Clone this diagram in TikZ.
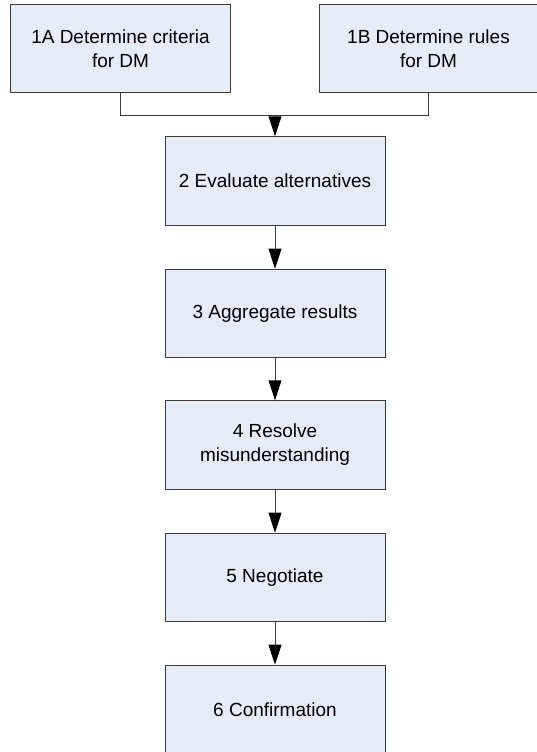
\documentclass[tikz,border=0pt]{standalone}
\usepackage{fontspec}
\setmainfont{Liberation Sans}
\usetikzlibrary{arrows.meta}
\definecolor{boxfill}{HTML}{E6ECF6}
\definecolor{boxline}{HTML}{3A3A3A}
\tikzset{
  stepbox/.style={draw=boxline, line width=0.9pt, fill=boxfill, minimum width=220pt, minimum height=88.5pt, align=center, inner sep=0pt, font=\fontsize{19}{24}\selectfont},
  conn/.style={draw=boxline, line width=0.9pt},
  arr/.style={conn, -{Triangle[length=20pt,width=13pt,fill=black,color=black]}}
}
\begin{document}
\begin{tikzpicture}[x=1pt,y=1pt]
\clip (0,0) rectangle (537,-752);
\useasboundingbox (0,0) rectangle (537,-752);
\node[stepbox] (a) at (120.5,-48.5) {1A Determine criteria\\for DM};
\node[stepbox, minimum width=218pt] (b) at (428.5,-48.5) {1B Determine rules\\for DM};
\node[stepbox] (n2) at (275,-181) {2 Evaluate alternatives};
\node[stepbox] (n3) at (275,-313.3) {3 Aggregate results};
\node[stepbox] (n4) at (275,-445) {4 Resolve\\misunderstanding};
\node[stepbox] (n5) at (275,-577.3) {5 Negotiate};
\node[stepbox] (n6) at (275,-709.3) {6 Confirmation};
\coordinate (m) at (275,-115.5);
\draw[conn] (a.south) |- (m) -| (b.south);
\draw[arr] (m) -- (n2.north);
\draw[arr] (n2.south) -- (n3.north);
\draw[arr] (n3.south) -- (n4.north);
\draw[arr] (n4.south) -- (n5.north);
\draw[arr] (n5.south) -- (n6.north);
\end{tikzpicture}
\end{document}
